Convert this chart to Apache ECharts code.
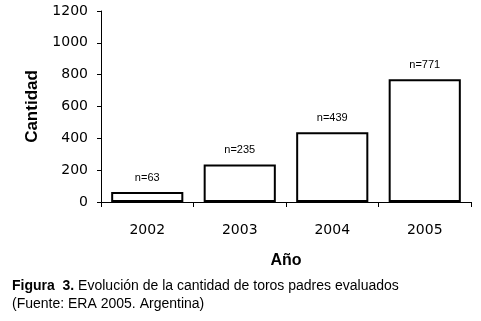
<!DOCTYPE html>
<html><head><meta charset="utf-8">
<script src="https://cdn.jsdelivr.net/npm/echarts@6/dist/echarts.min.js"></script>
<style>html,body{margin:0;padding:0;background:#fff}#c{width:481px;height:321px}</style>
</head><body><div id="c"></div>
<script>
const categories = ['2002', '2003', '2004', '2005'];
const values = [63, 235, 439, 771];
const yTicks = [0, 200, 400, 600, 800, 1000, 1200];

const chart = echarts.init(document.getElementById('c'));
chart.setOption({
  animation: false,
  backgroundColor: '#fff',
  grid: { left: 101, right: 10, top: 11, bottom: 119 },
  title: {
    left: 7, top: 272,
    text: '{b|Figura  3.} Evolución de la cantidad de toros padres evaluados\n(Fuente: ERA 2005. Argentina)',
    textStyle: {
      fontFamily: 'Liberation Sans', fontSize: 14, fontWeight: 'normal', color: '#000', lineHeight: 18,
      rich: { b: { fontFamily: 'Liberation Sans', fontSize: 14, fontWeight: 'bold', color: '#000', lineHeight: 18 } }
    }
  },
  xAxis: {
    type: 'category', data: categories,
    name: 'Año', nameLocation: 'middle', nameGap: 51,
    nameTextStyle: { fontFamily: 'Liberation Sans', fontSize: 16, fontWeight: 'bold', color: '#000' },
    axisLine: { lineStyle: { color: '#000', width: 1 } },
    axisTick: { show: true, length: 5, alignWithLabel: false, lineStyle: { color: '#000' } },
    axisLabel: { fontFamily: 'DejaVu Sans', fontSize: 14, color: '#000', margin: 21 }
  },
  yAxis: {
    type: 'value', min: yTicks[0], max: yTicks[yTicks.length - 1], interval: 200,
    name: 'Cantidad', nameLocation: 'middle', nameGap: 60, nameRotate: 90,
    nameTextStyle: { fontFamily: 'Liberation Sans', fontSize: 17, fontWeight: 'bold', color: '#000' },
    axisLine: { show: true, lineStyle: { color: '#000', width: 1 } },
    axisTick: { show: true, length: 4, lineStyle: { color: '#000' } },
    axisLabel: { fontFamily: 'DejaVu Sans', fontSize: 14, color: '#000', margin: 13, formatter: v => String(v) },
    splitLine: { show: false }
  },
  series: [{
    type: 'bar', data: values, barCategoryGap: '22%',
    itemStyle: { color: '#fff', borderColor: '#000', borderWidth: 2 },
    label: {
      show: true, position: 'top', distance: 9,
      formatter: p => 'n=' + p.value,
      fontFamily: 'Liberation Sans', fontSize: 11, color: '#000'
    }
  }]
});
</script></body></html>
